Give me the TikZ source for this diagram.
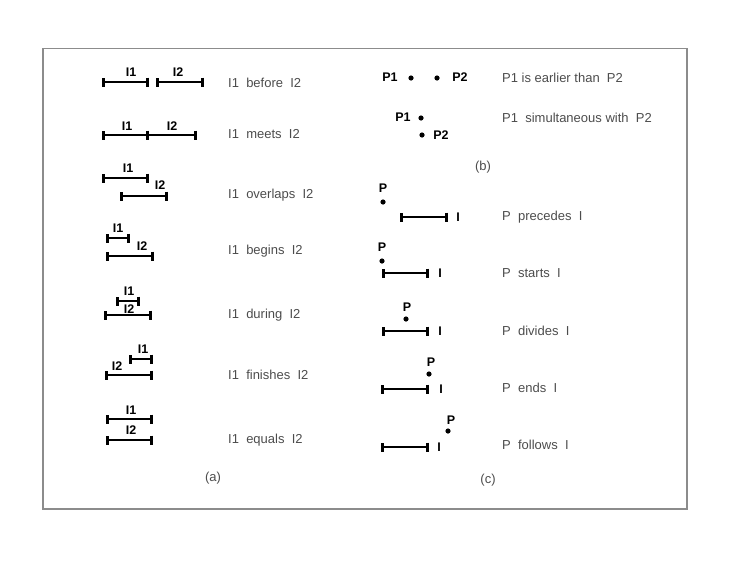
\documentclass[tikz,border=0pt]{standalone}
\usepackage{fontspec}
\setmainfont{Liberation Sans}
\usetikzlibrary{arrows.meta}

\begin{document}
\begin{tikzpicture}[x=1pt,y=-1pt,
	ivl/.style={line width=2.6pt,{Bar[width=9pt]}-{Bar[width=9pt]}},
	ivlr/.style={line width=2.6pt,-{Bar[width=9pt]}},
	nm/.style={font=\fontsize{12.5}{14}\selectfont\bfseries,inner sep=0pt},
	rel/.style={font=\fontsize{13}{15}\selectfont,text=black!70,anchor=west,inner sep=0pt},
	subcap/.style={font=\fontsize{13}{15}\selectfont,text=black!70,inner sep=0pt},
	pt/.style={circle,fill=black,inner sep=0pt,minimum size=5.2pt},]
	\useasboundingbox (0,0) rectangle (749,568);
	\draw[black!45,line width=1.5pt] (43,48.5) rectangle (687,509);
	% (a) interval relations
	\coordinate (bef1l) at (102,82); \coordinate (bef1r) at (149,82);
	\coordinate (bef2l) at (156,82); \coordinate (bef2r) at (204,82);
	\draw[ivl] (bef1l) -- (bef1r); \draw[ivl] (bef2l) -- (bef2r);
	\node [nm] (befI1) at (131,72) {I1};
	\node [nm] (befI2) at (178,72) {I2};
	\node [rel] (beftxt) at (228,83) {I1\ \ before\ \ I2};

	\coordinate (met1l) at (102,135); \coordinate (met1r) at (149,135);
	\coordinate (met2r) at (197,135);
	\draw[ivl] (met1l) -- (met1r); \draw[ivlr] (met1r) -- (met2r);
	\node [nm] (metI1) at (127,126) {I1};
	\node [nm] (metI2) at (172,126) {I2};
	\node [rel] (mettxt) at (228,134) {I1\ \ meets\ \ I2};

	\coordinate (ovl1l) at (102,178); \coordinate (ovl1r) at (149,178);
	\coordinate (ovl2l) at (120,196); \coordinate (ovl2r) at (168,196);
	\draw[ivl] (ovl1l) -- (ovl1r); \draw[ivl] (ovl2l) -- (ovl2r);
	\node [nm] (ovlI1) at (128,168) {I1};
	\node [nm] (ovlI2) at (160,185) {I2};
	\node [rel] (ovltxt) at (228,195) {I1\ \ overlaps\ \ I2};

	\coordinate (beg1l) at (106,238); \coordinate (beg1r) at (130,238);
	\coordinate (beg2l) at (106,256); \coordinate (beg2r) at (154,256);
	\draw[ivl] (beg1l) -- (beg1r); \draw[ivl] (beg2l) -- (beg2r);
	\node [nm] (begI1) at (118,228) {I1};
	\node [nm] (begI2) at (142,246) {I2};
	\node [rel] (begtxt) at (228,251) {I1\ \ begins\ \ I2};

	\coordinate (dur1l) at (116,301); \coordinate (dur1r) at (140,301);
	\coordinate (dur2l) at (104,315); \coordinate (dur2r) at (152,315);
	\draw[ivl] (dur1l) -- (dur1r); \draw[ivl] (dur2l) -- (dur2r);
	\node [nm] (durI1) at (129,291) {I1};
	\node [nm] (durI2) at (129,309) {I2};
	\node [rel] (durtxt) at (228,315) {I1\ \ during\ \ I2};

	\coordinate (fin1l) at (129,359); \coordinate (fin1r) at (153,359);
	\coordinate (fin2l) at (105,375); \coordinate (fin2r) at (153,375);
	\draw[ivl] (fin1l) -- (fin1r); \draw[ivl] (fin2l) -- (fin2r);
	\node [nm] (finI1) at (143,349) {I1};
	\node [nm] (finI2) at (117,366) {I2};
	\node [rel] (fintxt) at (228,375) {I1\ \ finishes\ \ I2};

	\coordinate (equ1l) at (106,419); \coordinate (equ1r) at (153,419);
	\coordinate (equ2l) at (106,440); \coordinate (equ2r) at (153,440);
	\draw[ivl] (equ1l) -- (equ1r); \draw[ivl] (equ2l) -- (equ2r);
	\node [nm] (equI1) at (131,410) {I1};
	\node [nm] (equI2) at (131,430) {I2};
	\node [rel] (equtxt) at (228,440) {I1\ \ equals\ \ I2};
	\node [subcap] (capa) at (213,478) {(a)};
	% (b) point relations
	\node [nm] (earP1) at (390,77) {P1};
	\node [pt] (eard1) at (411,78) {};
	\node [pt] (eard2) at (437,78) {};
	\node [nm] (earP2) at (460,77) {P2};
	\node [rel] (eartxt) at (502,78) {P1 is earlier than\ \ P2};

	\node [nm] (simP1) at (403,117) {P1};
	\node [pt] (simd1) at (421,118) {};
	\node [pt] (simd2) at (422,135) {};
	\node [nm] (simP2) at (441,135) {P2};
	\node [rel] (simtxt) at (502,118) {P1\ \ simultaneous with\ \ P2};
	\node [subcap] (capb) at (483,167) {(b)};
	% (c) point and interval
	\node [nm] (preP) at (383,188) {P};
	\node [pt] (pred) at (383,202) {};
	\coordinate (prel) at (400,217); \coordinate (prer) at (448,217);
	\draw[ivl] (prel) -- (prer);
	\node [nm] (preI) at (458,217) {I};
	\node [rel] (pretxt) at (502,217) {P\ \ precedes\ \ I};

	\node [nm] (staP) at (382,247) {P};
	\node [pt] (stad) at (382,261) {};
	\coordinate (stal) at (382,273); \coordinate (star) at (429,273);
	\draw[ivl] (stal) -- (star);
	\node [nm] (staI) at (440,273) {I};
	\node [rel] (statxt) at (502,273) {P\ \ starts\ \ I};

	\node [nm] (divP) at (407,307) {P};
	\node [pt] (divd) at (406,319) {};
	\coordinate (divl) at (382,331); \coordinate (divr) at (429,331);
	\draw[ivl] (divl) -- (divr);
	\node [nm] (divI) at (440,331) {I};
	\node [rel] (divtxt) at (502,331) {P\ \ divides\ \ I};

	\node [nm] (endP) at (431,362) {P};
	\node [pt] (endd) at (429,374) {};
	\coordinate (endl) at (381,389); \coordinate (endr) at (429,389);
	\draw[ivl] (endl) -- (endr);
	\node [nm] (endI) at (441,389) {I};
	\node [rel] (endtxt) at (502,388) {P\ \ ends\ \ I};

	\node [nm] (folP) at (451,420) {P};
	\node [pt] (fold) at (448,431) {};
	\coordinate (foll) at (381,447); \coordinate (folr) at (429,447);
	\draw[ivl] (foll) -- (folr);
	\node [nm] (folI) at (439,447) {I};
	\node [rel] (foltxt) at (502,445) {P\ \ follows\ \ I};
	\node [subcap] (capc) at (488,480) {(c)};
\end{tikzpicture}
\end{document}
